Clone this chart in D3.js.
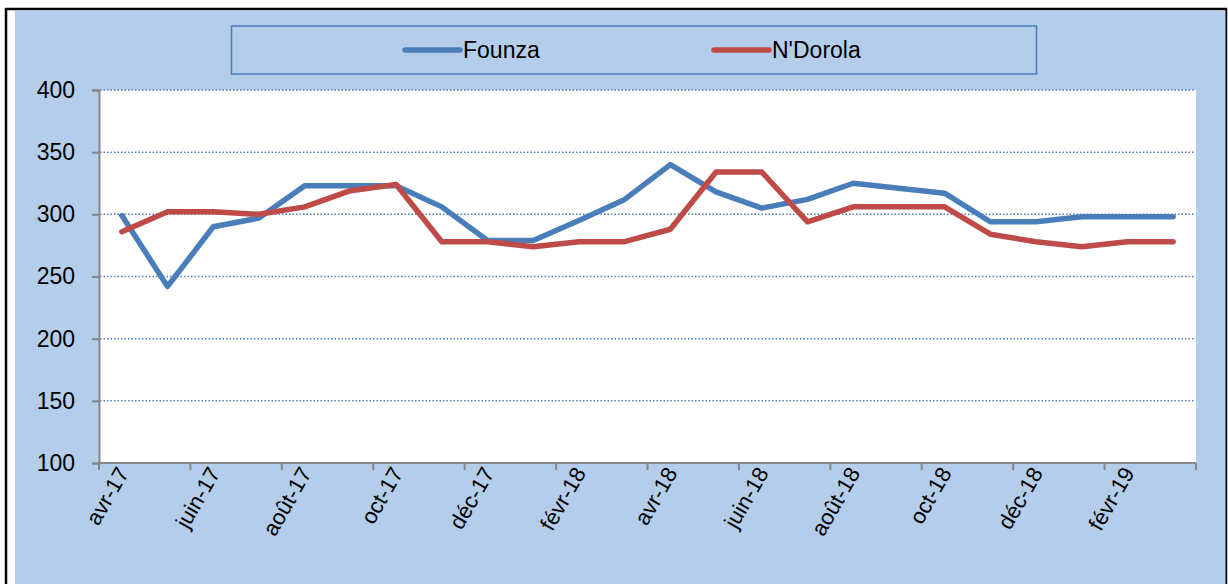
<!DOCTYPE html>
<html>
<head>
<meta charset="utf-8">
<script src="https://cdn.jsdelivr.net/npm/d3@7"></script>
<style>
  body { margin: 0; background: #fff; }
  svg { display: block; font-family: "Liberation Sans", Arial, sans-serif; }
</style>
</head>
<body>
<div id="chart"></div>
<script>
const width = 1228, height = 584;
const margin = { top: 90, right: 32, bottom: 121, left: 99 };

// data
const months = ["avr-17", "mai-17", "juin-17", "juil-17", "août-17", "sept-17", "oct-17", "nov-17",
  "déc-17", "janv-18", "févr-18", "mars-18", "avr-18", "mai-18", "juin-18", "juil-18",
  "août-18", "sept-18", "oct-18", "nov-18", "déc-18", "janv-19", "févr-19", "mars-19"];
const founza = [299, 242, 290, 297, 323, 323, 323, 306, 279, 279, 295, 312,
  340, 318, 305, 312, 325, 321, 317, 294, 294, 298, 298, 298];
const ndorola = [286, 302, 302, 300, 306, 319, 324, 278, 278, 274, 278, 278,
  288, 334, 334, 294, 306, 306, 306, 284, 278, 274, 278, 278];
const yTicks = [100, 150, 200, 250, 300, 350, 400];
const seriesNames = ["Founza", "N'Dorola"];
const colors = ["#4A7EBB", "#BE4B48"];

const svg = d3.select("#chart").append("svg")
  .attr("width", width)
  .attr("height", height);

// frame + background
svg.append("rect")
  .attr("x", 6).attr("y", 9)
  .attr("width", 1220).attr("height", 600)
  .attr("fill", "#fff")
  .attr("stroke", "#000").attr("stroke-width", 2.5);
svg.append("rect")
  .attr("x", 15).attr("y", 10.5)
  .attr("width", 1210.5).attr("height", 600)
  .attr("fill", "#B3CDEA");

const x = d3.scaleBand()
  .domain(months)
  .range([margin.left, width - margin.right]);

const y = d3.scaleLinear()
  .domain([100, 400])
  .range([height - margin.bottom, margin.top]);

// plot area
svg.append("rect")
  .attr("x", margin.left).attr("y", margin.top)
  .attr("width", width - margin.right - margin.left)
  .attr("height", height - margin.bottom - margin.top)
  .attr("fill", "#fff");

// dotted gridlines
svg.append("g")
  .selectAll("line")
  .data(yTicks.filter(d => d > 100))
  .join("line")
  .attr("x1", margin.left + 1)
  .attr("x2", width - margin.right - 2)
  .attr("y1", d => y(d))
  .attr("y2", d => y(d))
  .attr("stroke", "#4A7EBB")
  .attr("stroke-width", 1.5)
  .attr("stroke-dasharray", "1.5,2");

// y axis
const yAxis = svg.append("g")
  .attr("transform", `translate(${margin.left},0)`)
  .call(d3.axisLeft(y).tickValues(yTicks).tickSize(7).tickPadding(17));
yAxis.select(".domain").attr("stroke", "#868686").attr("stroke-width", 2);
yAxis.selectAll(".tick line").attr("stroke", "#868686").attr("stroke-width", 2);
yAxis.selectAll(".tick text")
  .attr("font-size", 23)
  .attr("fill", "#000");

// x axis: ticks on category boundaries every 2 months
const bounds = d3.range(0, months.length + 1, 2)
  .map(i => i < months.length ? x(months[i]) : x.range()[1]);
const xg = svg.append("g");
xg.append("line")
  .attr("x1", margin.left).attr("x2", width - margin.right)
  .attr("y1", y(100)).attr("y2", y(100))
  .attr("stroke", "#868686").attr("stroke-width", 2);
xg.selectAll("line.tk")
  .data(bounds)
  .join("line")
  .attr("class", "tk")
  .attr("x1", d => d).attr("x2", d => d)
  .attr("y1", y(100)).attr("y2", y(100) + 7)
  .attr("stroke", "#868686").attr("stroke-width", 2);
xg.selectAll("text")
  .data(months.filter((d, i) => i % 2 === 0))
  .join("text")
  .attr("transform", d => `translate(${x(d) + x.bandwidth() / 2 + 1},${y(100) + 6}) rotate(-60)`)
  .attr("text-anchor", "end")
  .attr("dy", "0.35em")
  .attr("font-size", 22)
  .attr("fill", "#000")
  .text(d => d);

// lines
const line = d3.line()
  .x((d, i) => x(months[i]) + x.bandwidth() / 2)
  .y(d => y(d));

[founza, ndorola].forEach((s, k) => {
  svg.append("path")
    .datum(s)
    .attr("d", line)
    .attr("fill", "none")
    .attr("stroke", colors[k])
    .attr("stroke-width", 5.5)
    .attr("stroke-linejoin", "round")
    .attr("stroke-linecap", "round");
});

// legend
svg.append("rect")
  .attr("x", 231.5).attr("y", 26)
  .attr("width", 805).attr("height", 48)
  .attr("fill", "none")
  .attr("stroke", "#4A7EBB").attr("stroke-width", 1.5);

const legendX = [405, 714];
const lg = svg.append("g")
  .selectAll("g")
  .data(seriesNames)
  .join("g")
  .attr("transform", (d, i) => `translate(${legendX[i]},50)`);
lg.append("line")
  .attr("x1", 0).attr("x2", 55)
  .attr("stroke", (d, i) => colors[i])
  .attr("stroke-width", 5.5)
  .attr("stroke-linecap", "round");
lg.append("text")
  .attr("x", 58)
  .attr("dy", "0.35em")
  .attr("font-size", 23)
  .attr("fill", "#000")
  .text(d => d);
</script>
</body>
</html>
